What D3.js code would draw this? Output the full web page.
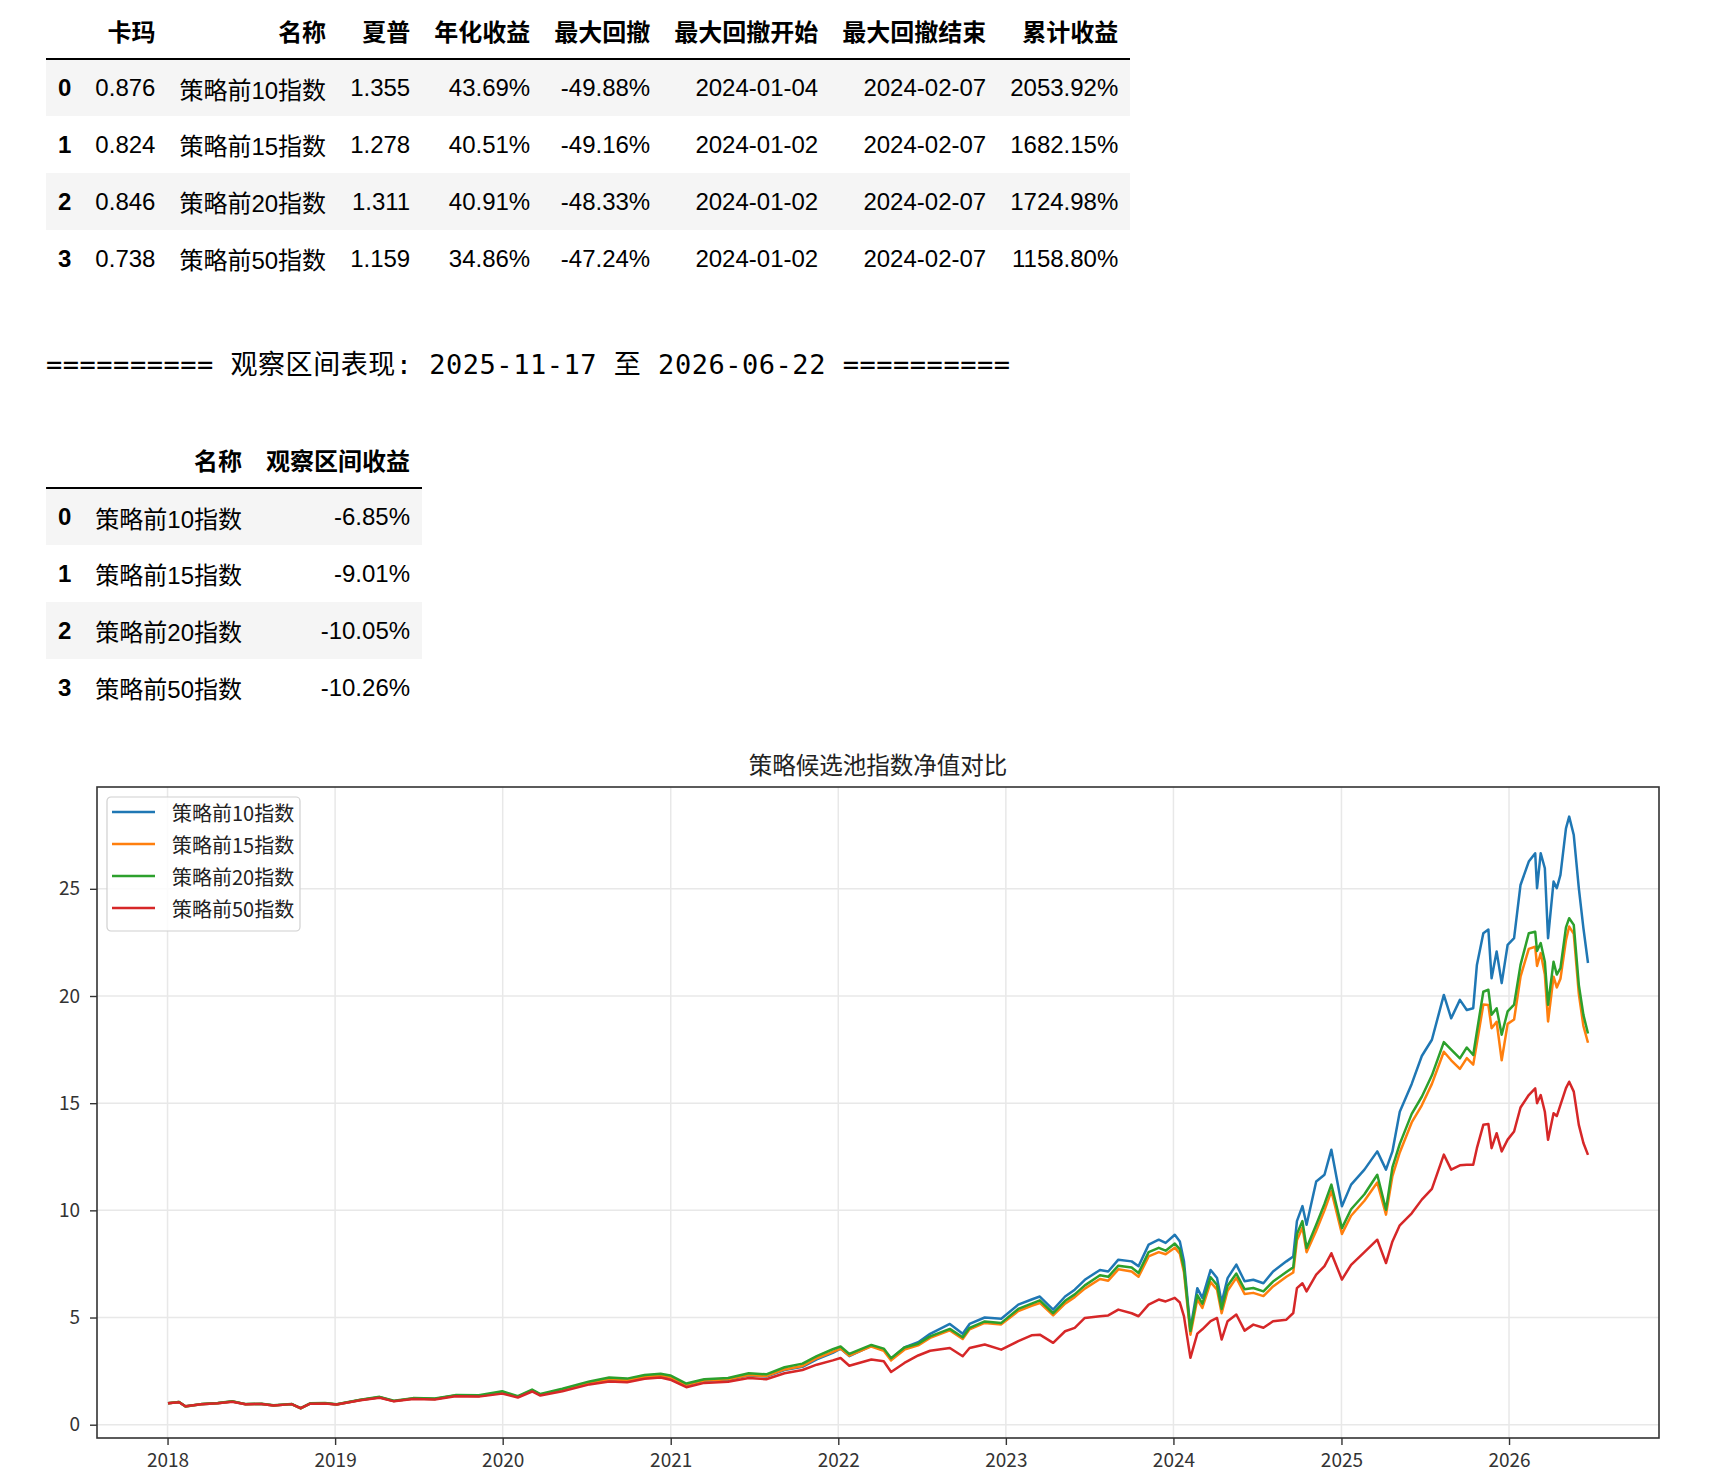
<!DOCTYPE html>
<html>
<head>
<meta charset="utf-8">
<script src="https://cdn.jsdelivr.net/npm/d3@7"></script>
<style>
  body { margin: 0; width: 1722px; height: 1484px; position: relative; background: #fff; overflow: hidden; }
  svg { position: absolute; left: 0; top: 0; }
  table.df {
    position: absolute; left: 46px;
    border-collapse: collapse; border-spacing: 0; border: none;
    font-family: "Liberation Sans", "Noto Sans CJK SC", sans-serif;
    font-size: 24px; color: #000;
  }
  table.df th, table.df td {
    padding: 0 12px; height: 57px; box-sizing: border-box;
    text-align: right; vertical-align: middle; white-space: nowrap;
  }
  table.df thead th { border-bottom: 2px solid #000; font-weight: bold; }
  table.df tbody th { font-weight: bold; text-align: left; }
  table.df tbody tr:nth-child(odd) { background: #f5f5f5; }
</style>
</head>
<body>
<script>
// chart data
const dates = [
  '2018-01-02','2018-01-26','2018-02-09','2018-03-15','2018-04-20','2018-05-22','2018-06-20','2018-07-25','2018-08-20','2018-09-28',
  '2018-10-18','2018-11-08','2018-12-10','2019-01-04','2019-02-25','2019-04-08','2019-05-09','2019-06-20','2019-08-06','2019-09-20',
  '2019-11-10','2019-12-31','2020-02-03','2020-03-05','2020-03-23','2020-05-10','2020-07-08','2020-08-20','2020-09-28','2020-11-05',
  '2020-12-10','2020-12-31','2021-02-04','2021-03-15','2021-05-06','2021-06-20','2021-07-28','2021-09-06','2021-10-15','2021-11-15',
  '2021-12-20','2022-01-06','2022-01-25','2022-03-14','2022-04-10','2022-04-26','2022-05-25','2022-06-24','2022-07-20','2022-09-01',
  '2022-09-29','2022-10-14','2022-11-16','2022-12-22','2023-01-28','2023-02-26','2023-03-16','2023-04-14','2023-05-10','2023-05-31',
  '2023-06-22','2023-07-25','2023-08-12','2023-09-03','2023-10-02','2023-10-17','2023-11-08','2023-11-30','2023-12-15','2024-01-04',
  '2024-01-15','2024-01-24','2024-02-07','2024-02-22','2024-03-04','2024-03-22','2024-04-05','2024-04-15','2024-04-28','2024-05-17',
  '2024-06-04','2024-06-23','2024-07-15','2024-08-05','2024-09-03','2024-09-18','2024-09-26','2024-10-08','2024-10-17','2024-11-07',
  '2024-11-25','2024-12-10','2025-01-02','2025-01-22','2025-02-20','2025-03-20','2025-04-08','2025-04-22','2025-05-08','2025-06-03',
  '2025-06-25','2025-07-17','2025-08-12','2025-08-28','2025-09-16','2025-10-01','2025-10-15','2025-10-23','2025-11-06','2025-11-17',
  '2025-11-24','2025-12-05','2025-12-16','2025-12-29','2026-01-12','2026-01-26','2026-02-13','2026-02-27','2026-03-03','2026-03-11',
  '2026-03-20','2026-03-27','2026-04-08','2026-04-15','2026-04-23','2026-05-05','2026-05-12','2026-05-22','2026-06-02','2026-06-12',
  '2026-06-22'
];

const top10 = [
  1.00,1.06,0.85,0.95,1.00,1.08,0.95,0.97,0.90,0.96,
  0.76,0.99,1.00,0.94,1.15,1.28,1.10,1.22,1.20,1.36,
  1.34,1.50,1.30,1.60,1.40,1.62,1.95,2.10,2.05,2.22,
  2.28,2.20,1.85,2.05,2.10,2.30,2.25,2.55,2.70,3.05,
  3.35,3.55,3.20,3.68,3.50,3.08,3.60,3.85,4.24,4.70,
  4.24,4.70,5.00,4.94,5.60,5.84,5.98,5.37,5.98,6.30,
  6.76,7.22,7.15,7.70,7.62,7.39,8.40,8.63,8.48,8.86,
  8.55,7.62,4.44,6.37,5.92,7.22,6.84,5.70,6.84,7.47,
  6.69,6.76,6.60,7.15,7.62,7.85,9.50,10.20,9.33,11.35,
  11.66,12.83,10.19,11.20,11.90,12.75,11.90,12.75,14.60,15.90,
  17.20,17.96,20.05,18.96,19.82,19.35,19.43,21.45,22.93,23.10,
  20.83,22.08,20.60,22.39,22.70,25.18,26.27,26.66,25.03,26.66,
  25.96,22.70,25.34,25.03,25.65,27.82,28.37,27.51,25.03,23.17,
  21.54
];

const top15 = [
  1.00,1.06,0.85,0.95,1.00,1.08,0.95,0.97,0.90,0.96,
  0.76,0.99,1.00,0.94,1.15,1.28,1.10,1.22,1.20,1.36,
  1.34,1.50,1.30,1.60,1.40,1.62,1.96,2.12,2.07,2.24,
  2.30,2.22,1.86,2.06,2.12,2.32,2.27,2.58,2.74,3.10,
  3.40,3.55,3.22,3.65,3.45,3.00,3.50,3.70,4.05,4.40,
  4.00,4.45,4.75,4.68,5.30,5.55,5.68,5.10,5.65,5.95,
  6.35,6.80,6.72,7.25,7.15,6.90,7.85,8.05,7.95,8.26,
  7.98,7.10,4.20,5.85,5.45,6.65,6.30,5.20,6.25,6.85,
  6.10,6.15,6.00,6.45,6.90,7.10,8.60,9.20,8.05,9.05,
  10.00,10.90,8.90,9.75,10.45,11.30,9.80,11.60,12.70,14.10,
  14.90,15.90,17.40,17.00,16.60,17.10,16.80,17.80,19.60,19.58,
  18.50,18.80,17.00,18.70,18.90,20.90,22.20,22.30,21.40,22.00,
  21.00,18.81,20.90,20.40,20.80,22.60,23.24,22.90,20.10,18.60,
  17.82
];

const top20 = [
  1.00,1.06,0.86,0.96,1.01,1.09,0.96,0.98,0.91,0.97,
  0.77,1.00,1.01,0.95,1.16,1.30,1.12,1.24,1.22,1.38,
  1.37,1.56,1.33,1.64,1.43,1.68,2.02,2.20,2.15,2.32,
  2.38,2.30,1.92,2.12,2.18,2.40,2.35,2.68,2.85,3.20,
  3.52,3.65,3.30,3.72,3.55,3.10,3.60,3.78,4.12,4.47,
  4.08,4.52,4.82,4.75,5.40,5.65,5.80,5.20,5.78,6.08,
  6.50,6.97,6.90,7.42,7.33,7.08,8.05,8.25,8.12,8.45,
  8.18,7.30,4.37,6.05,5.65,6.88,6.52,5.40,6.48,7.05,
  6.32,6.38,6.22,6.68,7.12,7.35,8.90,9.50,8.24,9.33,
  10.30,11.20,9.17,10.05,10.75,11.66,10.03,12.00,13.10,14.50,
  15.30,16.30,17.85,17.50,17.09,17.60,17.25,18.34,20.20,20.29,
  19.12,19.43,18.19,19.28,19.60,21.45,22.93,23.00,22.10,22.47,
  21.60,19.59,21.60,21.00,21.30,23.20,23.63,23.32,20.52,19.12,
  18.25
];

const top50 = [
  1.00,1.05,0.86,0.95,1.00,1.07,0.95,0.97,0.90,0.96,
  0.77,0.98,0.99,0.94,1.14,1.26,1.09,1.20,1.18,1.33,
  1.31,1.45,1.27,1.55,1.36,1.56,1.88,2.02,1.98,2.14,
  2.20,2.10,1.75,1.95,2.00,2.18,2.12,2.40,2.55,2.80,
  3.00,3.11,2.75,3.04,2.96,2.46,2.88,3.23,3.45,3.58,
  3.19,3.58,3.74,3.50,3.90,4.17,4.20,3.82,4.36,4.52,
  4.98,5.06,5.10,5.37,5.20,5.06,5.60,5.84,5.75,5.92,
  5.70,5.05,3.12,4.25,4.45,4.83,4.98,3.97,4.83,5.14,
  4.39,4.67,4.52,4.83,4.90,5.21,6.37,6.60,6.22,7.00,
  7.40,8.00,6.77,7.46,8.05,8.63,7.54,8.55,9.30,9.86,
  10.50,11.00,12.60,11.90,12.10,12.13,12.13,12.90,13.99,14.03,
  12.90,13.60,12.75,13.30,13.68,14.80,15.38,15.69,15.00,15.38,
  14.60,13.29,14.53,14.40,14.92,15.70,16.00,15.54,13.99,13.14,
  12.59
];

const seriesNames = ['策略前10指数', '策略前15指数', '策略前20指数', '策略前50指数'];
const seriesColors = ['#1f77b4', '#ff7f0e', '#2ca02c', '#d62728'];
const yTicks = [0, 5, 10, 15, 20, 25];
const chartTitle = '策略候选池指数净值对比';

// summary table data
const statCols = ['卡玛', '名称', '夏普', '年化收益', '最大回撤', '最大回撤开始', '最大回撤结束', '累计收益'];
const calmar = ['0.876', '0.824', '0.846', '0.738'];
const sharpe = ['1.355', '1.278', '1.311', '1.159'];
const annualRet = ['43.69%', '40.51%', '40.91%', '34.86%'];
const maxDD = ['-49.88%', '-49.16%', '-48.33%', '-47.24%'];
const ddStart = ['2024-01-04', '2024-01-02', '2024-01-02', '2024-01-02'];
const ddEnd = ['2024-02-07', '2024-02-07', '2024-02-07', '2024-02-07'];
const cumRet = ['2053.92%', '1682.15%', '1724.98%', '1158.80%'];

const obsStart = '2025-11-17', obsEnd = '2026-06-22';
const obsCols = ['名称', '观察区间收益'];
const obsRet = ['-6.85%', '-9.01%', '-10.05%', '-10.26%'];

// page
const W = 1722, H = 1484;
const svg = d3.select('body').append('svg')
  .attr('width', W)
  .attr('height', H);

// pandas-like tables
function drawTable(top, cols, rows) {
  let table = d3.select('body').append('table')
    .attr('class', 'df')
    .style('top', top + 'px');
  table.append('thead').append('tr')
    .selectAll('th')
    .data([''].concat(cols))
    .enter().append('th')
      .text(d => d);
  let tr = table.append('tbody').selectAll('tr')
    .data(rows)
    .enter().append('tr');
  tr.append('th').text((d, i) => i);
  tr.selectAll('td')
    .data(d => d)
    .enter().append('td')
      .text(d => d);
}

drawTable(2, statCols, seriesNames.map((n, i) =>
  [calmar[i], n, sharpe[i], annualRet[i], maxDD[i], ddStart[i], ddEnd[i], cumRet[i]]));

// printed line between the tables
svg.append('text')
  .attr('x', 46)
  .attr('y', 374)
  .attr('textLength', 964)
  .attr('lengthAdjust', 'spacing')
  .style('font-family', '"DejaVu Sans Mono", "Noto Sans CJK SC", monospace')
  .style('font-size', '27px')
  .style('fill', '#000')
  .text('========== 观察区间表现: ' + obsStart + ' 至 ' + obsEnd + ' ==========');

drawTable(431, obsCols, seriesNames.map((n, i) => [n, obsRet[i]]));

// line chart
let plot = { left: 97, right: 1659, top: 787, bottom: 1438 };
let parse = d3.timeParse('%Y-%m-%d');
let t = dates.map(parse);
let series = [top10, top15, top20, top50];

let tExt = d3.extent(t);
let tPad = (tExt[1] - tExt[0]) * 0.05;
let xScale = d3.scaleTime()
  .domain([new Date(+tExt[0] - tPad), new Date(+tExt[1] + tPad)])
  .range([plot.left, plot.right]);

let vMin = d3.min(series, s => d3.min(s));
let vMax = d3.max(series, s => d3.max(s));
let vPad = (vMax - vMin) * 0.05;
let yScale = d3.scaleLinear()
  .domain([vMin - vPad, vMax + vPad])
  .range([plot.bottom, plot.top]);

let yearTicks = xScale.ticks(d3.timeYear.every(1));

// grid
let grid = svg.append('g').attr('stroke', '#e8e8e8').attr('stroke-width', 1.5);
grid.selectAll('.gx')
  .data(yearTicks)
  .enter().append('line')
    .attr('x1', d => xScale(d)).attr('x2', d => xScale(d))
    .attr('y1', plot.top).attr('y2', plot.bottom);
grid.selectAll('.gy')
  .data(yTicks)
  .enter().append('line')
    .attr('x1', plot.left).attr('x2', plot.right)
    .attr('y1', d => yScale(d)).attr('y2', d => yScale(d));

// lines
let line = d3.line()
  .x((d, i) => xScale(t[i]))
  .y(d => yScale(d));

svg.append('g')
  .selectAll('path')
  .data(series)
  .enter().append('path')
    .attr('d', line)
    .attr('fill', 'none')
    .attr('stroke', (d, i) => seriesColors[i])
    .attr('stroke-width', 2.5)
    .attr('stroke-linejoin', 'round');

// axes
let xAxis = svg.append('g')
  .attr('transform', `translate(0,${plot.bottom})`)
  .call(d3.axisBottom(xScale).tickValues(yearTicks).tickFormat(d3.timeFormat('%Y')).tickSize(7).tickPadding(9));

let yAxis = svg.append('g')
  .attr('transform', `translate(${plot.left},0)`)
  .call(d3.axisLeft(yScale).tickValues(yTicks).tickSize(7).tickPadding(10));

[xAxis, yAxis].forEach(ax => {
  ax.select('.domain').remove();
  ax.selectAll('line').attr('stroke', '#333').attr('stroke-width', 1.4);
  ax.selectAll('text')
    .style('font-family', '"Noto Sans CJK SC", "DejaVu Sans", sans-serif')
    .style('font-size', '19px')
    .attr('fill', '#333');
});

// frame
svg.append('rect')
  .attr('x', plot.left).attr('y', plot.top)
  .attr('width', plot.right - plot.left)
  .attr('height', plot.bottom - plot.top)
  .attr('fill', 'none')
  .attr('stroke', '#333')
  .attr('stroke-width', 1.6);

// title
svg.append('text')
  .attr('x', (plot.left + plot.right) / 2)
  .attr('y', plot.top - 23)
  .attr('text-anchor', 'middle')
  .attr('dominant-baseline', 'central')
  .style('font-family', '"Noto Sans CJK SC", sans-serif')
  .style('font-size', '23.5px')
  .attr('fill', '#222')
  .text(chartTitle);

// legend
let legend = svg.append('g')
  .attr('transform', `translate(${plot.left + 10},${plot.top + 10})`);
legend.append('rect')
  .attr('width', 193).attr('height', 134).attr('rx', 4)
  .attr('fill', '#fff').attr('fill-opacity', 0.8)
  .attr('stroke', '#d0d0d0').attr('stroke-width', 1.2);
let item = legend.selectAll('.item')
  .data(seriesNames)
  .enter().append('g')
    .attr('transform', (d, i) => `translate(0,${15 + i * 32})`);
item.append('line')
  .attr('x1', 5).attr('x2', 48)
  .attr('stroke', (d, i) => seriesColors[i])
  .attr('stroke-width', 2.5);
item.append('text')
  .attr('x', 65)
  .attr('dominant-baseline', 'central')
  .style('font-family', '"Noto Sans CJK SC", sans-serif')
  .style('font-size', '20px')
  .attr('fill', '#222')
  .text(d => d);
</script>
</body>
</html>
